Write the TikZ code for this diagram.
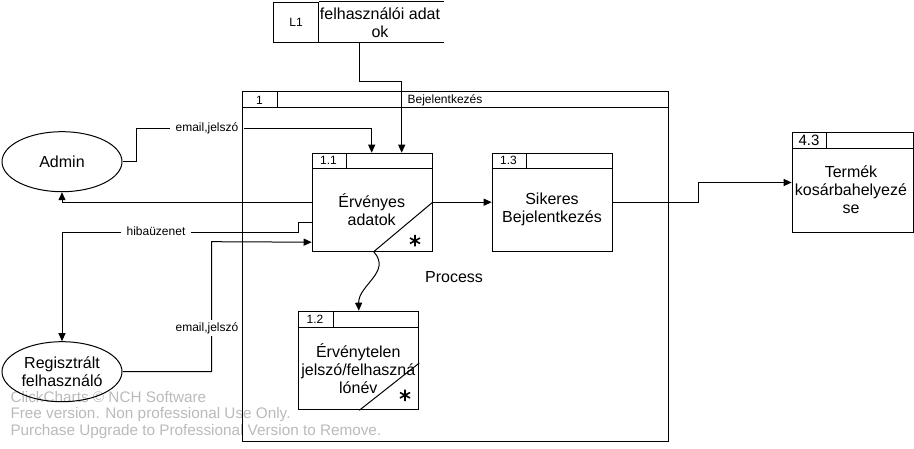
\documentclass[tikz,border=0pt]{standalone}
\usepackage{fontspec}
\setmainfont{Liberation Sans}
\usetikzlibrary{shapes.geometric,arrows.meta}
\begin{document}
\begin{tikzpicture}[x=1pt,y=-1pt,line width=1pt,
  pbox/.style={draw,rectangle,inner sep=0pt,anchor=north west},
  actor/.style={draw,ellipse,inner sep=0pt,minimum width=120pt,minimum height=60pt,font=\fontsize{16}{18}\selectfont,align=center},
  arr/.style={-{Triangle[length=8pt,width=7pt]}},
  big/.style={font=\fontsize{16}{18}\selectfont,align=center,inner sep=0pt},
  small/.style={font=\fontsize{12}{14}\selectfont,inner sep=0pt},
  lbl/.style={fill=white,font=\fontsize{12}{14}\selectfont,inner xsep=6pt,inner ysep=2pt},
  wm/.style={font=\fontsize{15.3}{17}\selectfont,text=black!27,anchor=west,inner sep=0pt},
  star/.style={line width=1.6pt}]
\useasboundingbox (0,0) rectangle (914,449);

% watermark
\node[wm] (wm1) at (10,397) {ClickCharts © NCH Software};
\node[wm] (wm2) at (10,414.5) {Free version. Non professional Use Only.};
\node[wm] (wm3) at (10,432) {Purchase Upgrade to Professional Version to Remove.};

% actors
\node[actor] (admin) at (62,161.7) {Admin};
\node[actor] (reg) at (62,371.7) {Regisztrált\\felhasználó};

% data store L1
\node[pbox,minimum width=45pt,minimum height=40pt,small] (l1) at (273,2) {L1};
\draw (l1.north east) -- ++(125,0);
\draw (l1.south east) -- ++(125,0);
\node[big] (l1t) at (380,22.5) {felhasználói adat\\ok};

% process 1.1
\node[pbox,minimum width=120pt,minimum height=98pt] (p11) at (311.7,152.7) {};
\draw ([yshift=-15.6pt]p11.north west) -- ([yshift=-15.6pt]p11.north east);
\draw ([xshift=35pt]p11.north west) -- ++(0,15.6);
\node[small] (p11n) at (328.5,160.5) {1.1};
\node[big] (p11t) at (371.7,209.5) {Érvényes\\adatok};
\draw (p11.east) -- ([xshift=-59pt]p11.south east);
\draw[star] (415,235) -- (415,246.5) (410,238) -- (420,243.5) (410,243.5) -- (420,238);

% process 1.3
\node[pbox,minimum width=120.6pt,minimum height=98pt] (p13) at (491.7,152.7) {};
\draw ([yshift=-15.6pt]p13.north west) -- ([yshift=-15.6pt]p13.north east);
\draw ([xshift=35pt]p13.north west) -- ++(0,15.6);
\node[small] (p13n) at (508.5,160.5) {1.3};
\node[big] (p13t) at (552,209.5) {Sikeres\\Bejelentkezés};

% process 1.2
\node[pbox,minimum width=120pt,minimum height=98.6pt] (p12) at (298.3,310.7) {};
\draw ([yshift=-16.6pt]p12.north west) -- ([yshift=-16.6pt]p12.north east);
\draw ([xshift=35pt]p12.north west) -- ++(0,16.6);
\node[small] (p12n) at (315,319) {1.2};
\node[big] (p12t) at (358.3,368.5) {Érvénytelen\\jelszó/felhaszná\\lónév};
\draw ([xshift=-60pt]p12.south east) -- ([yshift=47.3pt]p12.south east);
\draw[star] (405,389.5) -- (405,401) (400,392.5) -- (410,398) (400,398) -- (410,392.5);

% process 4.3
\node[pbox,minimum width=121pt,minimum height=99.4pt] (p43) at (791.7,132.3) {};
\draw ([yshift=-16pt]p43.north west) -- ([yshift=-16pt]p43.north east);
\draw ([xshift=35pt]p43.north west) -- ++(0,16);
\node[font=\fontsize{15}{17}\selectfont,inner sep=0pt] (p43n) at (809,140.5) {4.3};
\node[big] (p43t) at (851,190) {Termék\\kosárbahelyezé\\se};

\node[big] (proc) at (454,277) {Process};

% connectors
\draw[arr] (admin.east) -- ++(14,0) -- ++(0,-33.4) -| ([xshift=60pt]p11.north west);
\node[lbl] (l_email1) at (207,128.3) {email,jelszó};
\draw[arr] (p11.west) -| (admin.south);
\draw[arr] ([yshift=-20pt]p11.west) -- ++(-13.4,0) -- ++(0,10) -| (reg.north);
\node[lbl] (l_hiba) at (156,231.7) {hibaüzenet};
\draw[arr] (reg.east) -| (211.7,241.7) -- ([yshift=-40pt]p11.west);
\node[lbl] (l_email2) at (207,328) {email,jelszó};
\draw[arr] ([xshift=40.3pt]l1.south east) -- ++(0,38.7) -| ([xshift=90pt]p11.north west);
\draw[arr] (p11.east) -- (p13.west);
\draw[arr] (p13.east) -- ++(85,0) |- (p43.west);
\draw[arr] ([xshift=-59pt]p11.south east) .. controls (392,272) and (358.3,285) .. (p12.north);

% process 1 frame
\draw (242,92) rectangle (668,441);
\draw (242,108) -- (668,108);
\draw (277,92) -- (277,108);
\node[small] (f1n) at (259.5,100) {1};
\node[small] (f1t) at (445,100) {Bejelentkezés};
\end{tikzpicture}
\end{document}
